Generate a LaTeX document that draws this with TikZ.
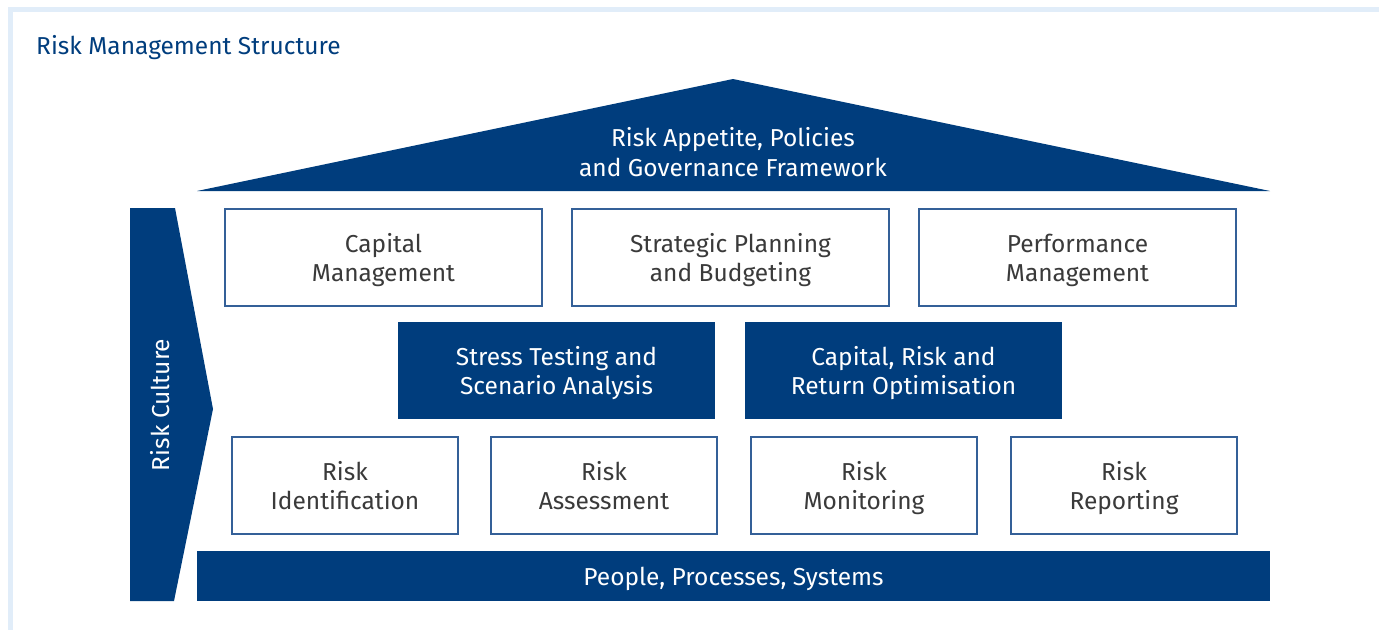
\documentclass[tikz,border=0pt]{standalone}
\usepackage{fontspec}
\setmainfont{Fira Sans}
\usepackage{tikz}

\definecolor{rmblue}{RGB}{0,61,125}
\definecolor{rmline}{RGB}{52,96,152}
\definecolor{rmgrey}{RGB}{58,58,58}
\definecolor{rmframe}{RGB}{225,237,249}

\tikzset{
  plainbox/.style={draw=rmline,line width=1.4pt,fill=white,text=rmgrey,
    minimum width=317pt,minimum height=97pt,align=center,
    font=\fontsize{24.5}{29}\selectfont,inner sep=0pt,text depth=0pt},
  smallbox/.style={plainbox,minimum width=226pt},
  darkbox/.style={fill=rmblue,text=white,minimum width=317pt,minimum height=97pt,
    align=center,font=\fontsize{24.5}{29}\selectfont,inner sep=0pt,text depth=0pt},
  whitetext/.style={text=white,align=center,font=\fontsize{24.5}{30}\selectfont,text depth=0pt}
}

\begin{document}
\begin{tikzpicture}[x=1pt,y=-1pt]
\useasboundingbox (0,0) rectangle (1379,630);
% frame and title
\fill[rmframe] (8,7) rectangle (1379,12);
\fill[rmframe] (8,7) rectangle (13,630);
\node (title) at (36,47.5) [anchor=west,text=rmblue,font=\fontsize{24.5}{28}\selectfont,inner sep=0pt] {Risk Management Structure};
% roof
\fill[rmblue] (197,191) -- (733,79) -- (1270,191) -- cycle;
\node (roof) at (733,152) [whitetext] {Risk Appetite, Policies\\and Governance Framework};
% risk culture
\fill[rmblue] (130,208) -- (175,208) -- (213,409) -- (174,601) -- (130,601) -- cycle;
\node (culture) at (160,405) [whitetext,rotate=90] {Risk Culture};
% base
\node (base) at (733.5,576) [fill=rmblue,minimum width=1073pt,minimum height=50pt,inner sep=0pt,whitetext] {People, Processes, Systems};
% top row
\node (capital) at (383.5,257.5) [plainbox] {Capital\\Management};
\node (planning) at (730.5,257.5) [plainbox] {Strategic Planning\\and Budgeting};
\node (performance) at (1077.5,257.5) [plainbox] {Performance\\Management};
% middle row
\node (stress) at (556.5,370.5) [darkbox] {Stress Testing and\\Scenario Analysis};
\node (optimise) at (903.5,370.5) [darkbox] {Capital, Risk and\\Return Optimisation};
% bottom row
\node (identify) at (345,485.5) [smallbox] {Risk\\Identification};
\node (assess) at (604,485.5) [smallbox] {Risk\\Assessment};
\node (monitor) at (864,485.5) [smallbox] {Risk\\Monitoring};
\node (report) at (1124,485.5) [smallbox] {Risk\\Reporting};
\end{tikzpicture}
\end{document}
